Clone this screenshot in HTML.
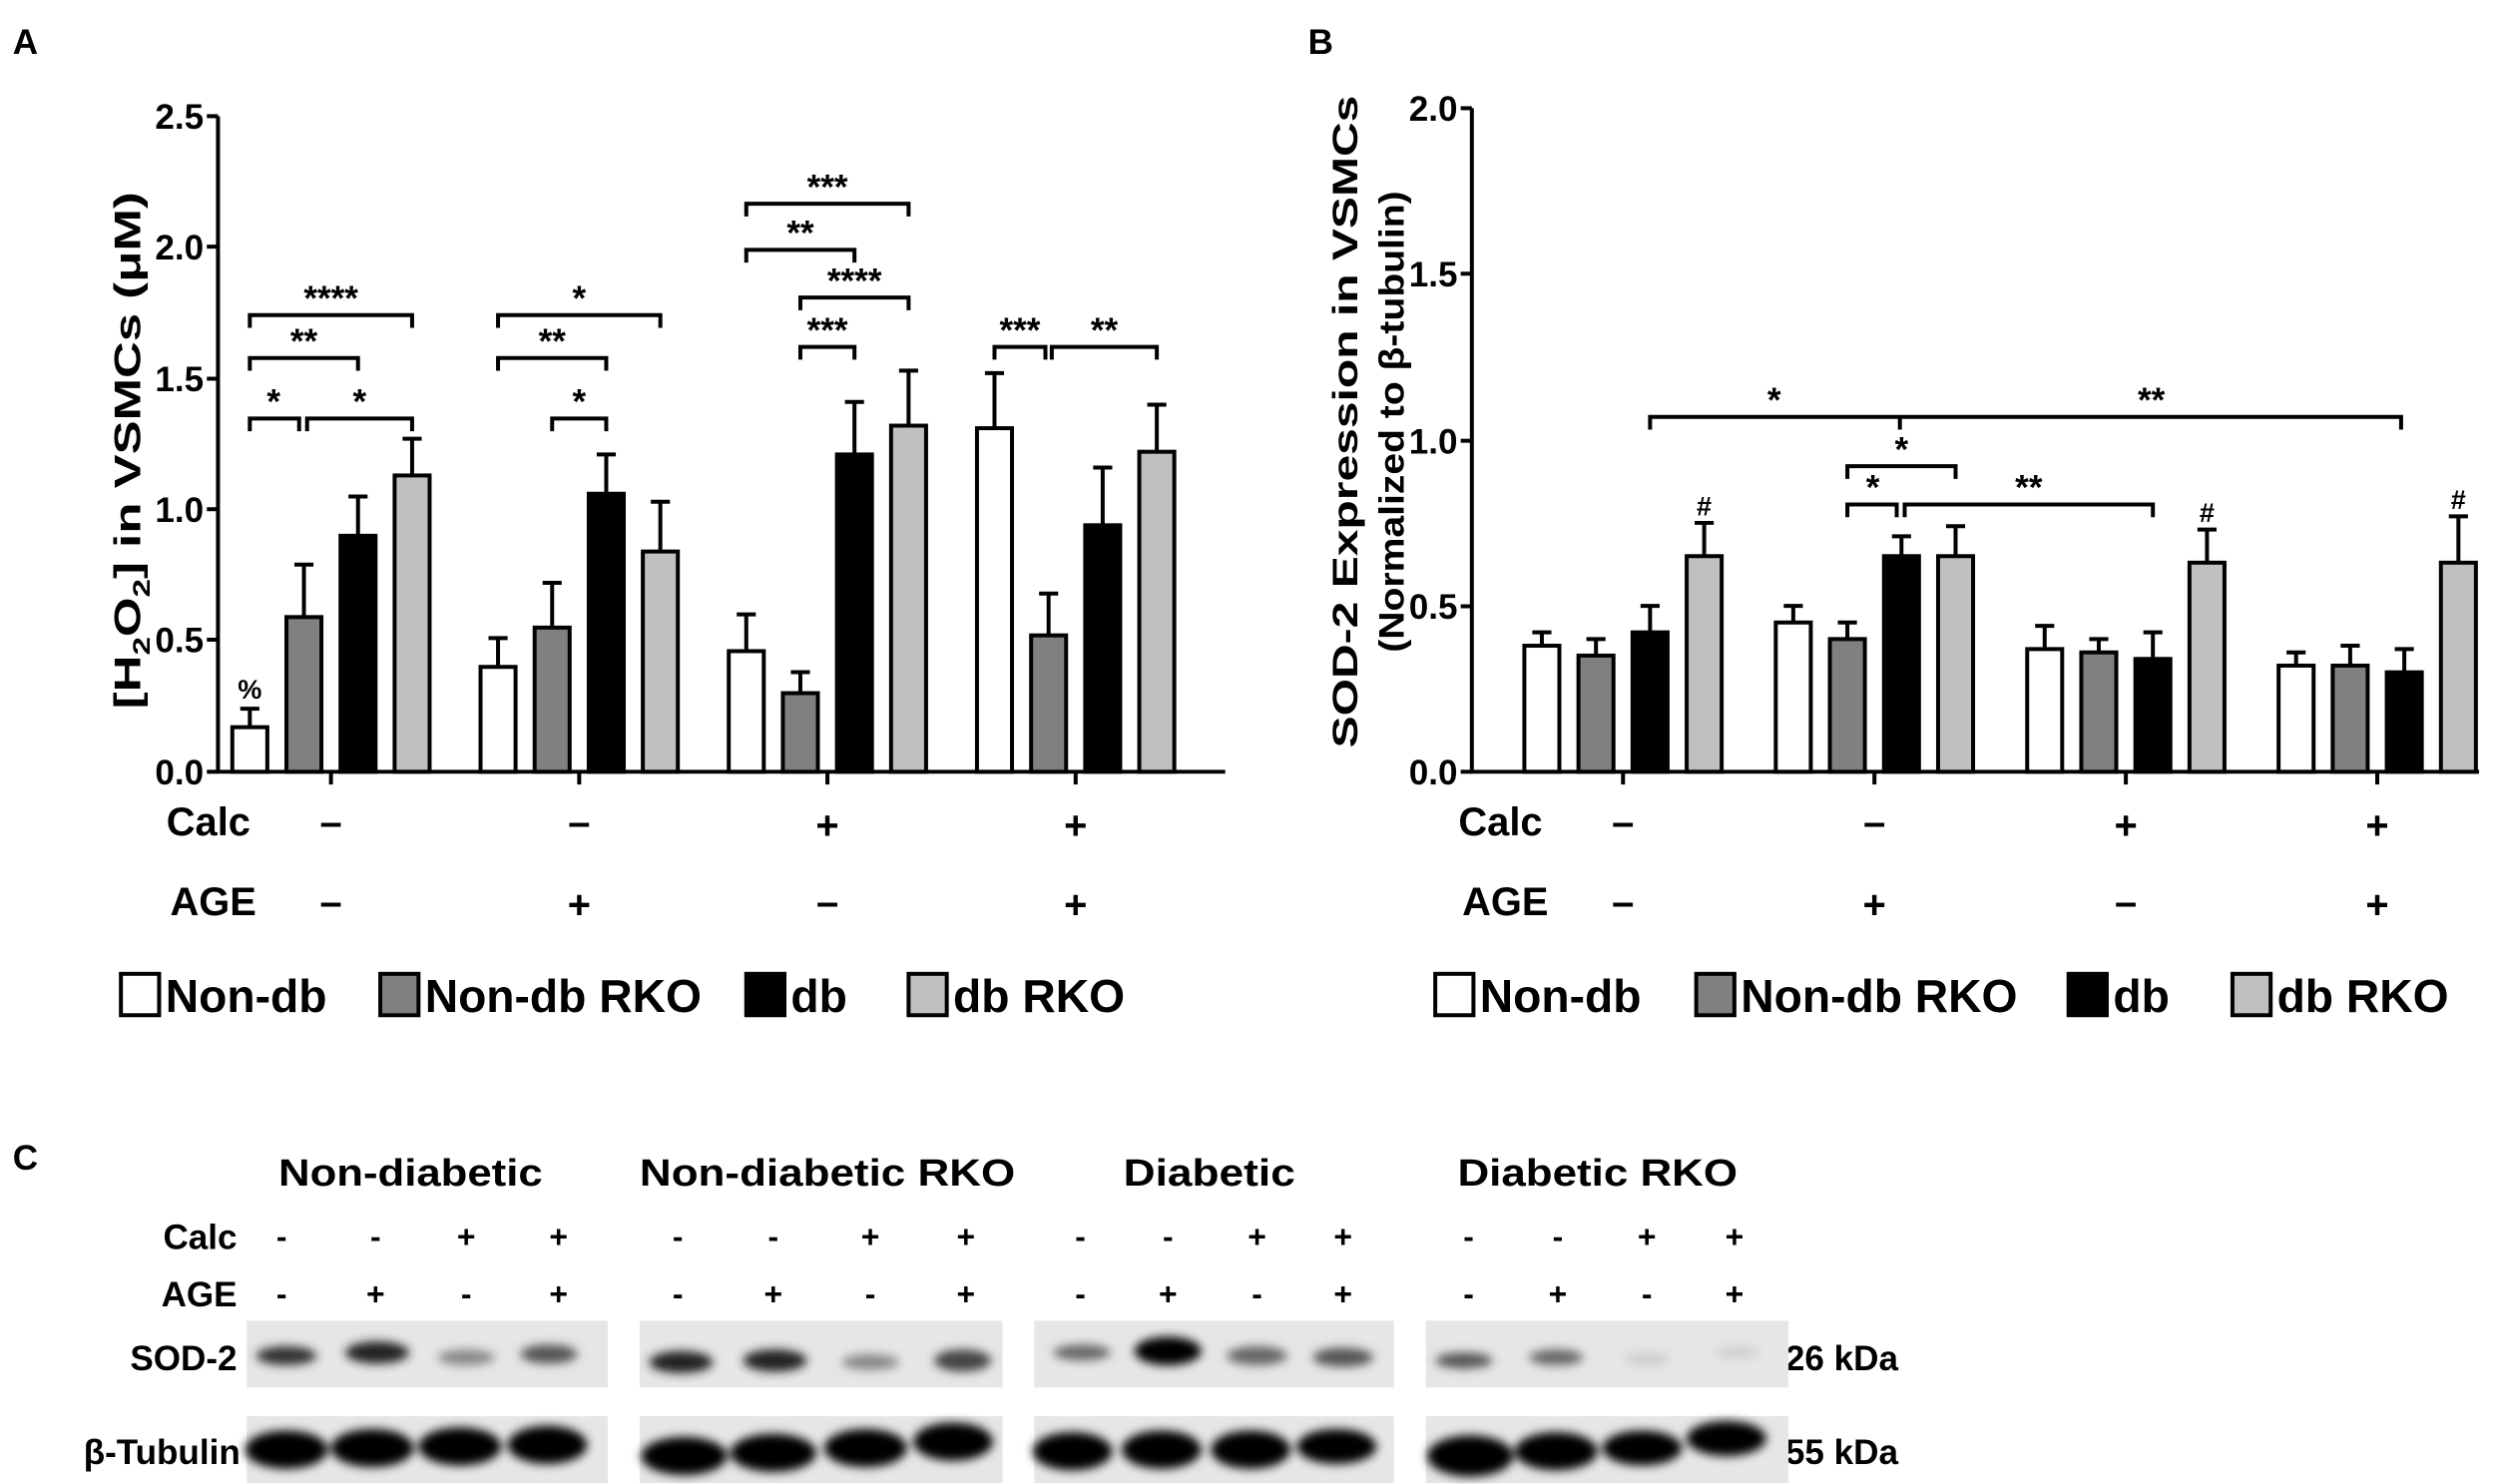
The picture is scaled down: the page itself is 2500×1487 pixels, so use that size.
<!DOCTYPE html>
<html><head><meta charset="utf-8"><style>
html,body{margin:0;padding:0;background:#fff}
svg{display:block}
text{font-family:"Liberation Sans",Arial,sans-serif;font-weight:bold;fill:#000}
</style></head><body>
<svg width="2500" height="1487" viewBox="0 0 1568 932.6" preserveAspectRatio="none" xmlns="http://www.w3.org/2000/svg">
<defs><filter id="bl" x="-30%" y="-60%" width="160%" height="220%"><feGaussianBlur stdDeviation="3"/></filter></defs>
<rect width="1568" height="933" fill="#fff"/>
<text x="8" y="34" font-size="22">A</text>
<text x="822" y="34" font-size="22">B</text>
<text x="8" y="735" font-size="22">C</text>

<!-- Panel A axes -->
<g stroke="#000" stroke-width="2.5" fill="none">
<line x1="137" y1="73" x2="137" y2="486"/>
<line x1="136" y1="485" x2="770" y2="485"/>
<line x1="130" y1="73" x2="137" y2="73"/><line x1="130" y1="155" x2="137" y2="155"/><line x1="130" y1="238" x2="137" y2="238"/><line x1="130" y1="320" x2="137" y2="320"/><line x1="130" y1="402" x2="137" y2="402"/><line x1="130" y1="485" x2="137" y2="485"/>
<line x1="208" y1="485" x2="208" y2="493"/><line x1="364" y1="485" x2="364" y2="493"/><line x1="520" y1="485" x2="520" y2="493"/><line x1="676" y1="485" x2="676" y2="493"/>
</g>
<g font-size="22" text-anchor="end">
<text x="128" y="81">2.5</text><text x="128" y="163">2.0</text><text x="128" y="246">1.5</text><text x="128" y="328">1.0</text><text x="128" y="410">0.5</text><text x="128" y="493">0.0</text>
</g>
<text transform="translate(88,283) rotate(-90)" font-size="23" text-anchor="middle" textLength="325" lengthAdjust="spacingAndGlyphs">[H<tspan font-size="15" dy="6">2</tspan><tspan dy="-6">O</tspan><tspan font-size="15" dy="6">2</tspan><tspan dy="-6">] in VSMCs (μM)</tspan></text>

<!-- Panel A bars -->
<g stroke="#000" stroke-width="2.5">
<rect x="146" y="457" width="22" height="28" fill="#fff"/>
<rect x="180" y="387.8" width="22" height="97.2" fill="#808080"/>
<rect x="214" y="336.7" width="22" height="148.3" fill="#000"/>
<rect x="248" y="298.8" width="22" height="186.2" fill="#c0c0c0"/>
<rect x="302" y="419.1" width="22" height="65.9" fill="#fff"/>
<rect x="336" y="394.4" width="22" height="90.6" fill="#808080"/>
<rect x="370" y="310.3" width="22" height="174.7" fill="#000"/>
<rect x="404" y="346.6" width="22" height="138.4" fill="#c0c0c0"/>
<rect x="458" y="409.2" width="22" height="75.8" fill="#fff"/>
<rect x="492" y="435.6" width="22" height="49.4" fill="#808080"/>
<rect x="526" y="285.6" width="22" height="199.4" fill="#000"/>
<rect x="560" y="267.5" width="22" height="217.5" fill="#c0c0c0"/>
<rect x="614" y="269.1" width="22" height="215.9" fill="#fff"/>
<rect x="648" y="399.3" width="22" height="85.7" fill="#808080"/>
<rect x="682" y="330.1" width="22" height="154.9" fill="#000"/>
<rect x="716" y="283.9" width="22" height="201.1" fill="#c0c0c0"/>
</g>
<g stroke="#000" stroke-width="2.5" fill="none">
<path d="M157 457V445.4M151 445.4H163"/>
<path d="M191 387.8V354.8M185 354.8H197"/>
<path d="M225 336.7V312M219 312H231"/>
<path d="M259 298.8V275.7M253 275.7H265"/>
<path d="M313 419.1V401M307 401H319"/>
<path d="M347 394.4V366.3M341 366.3H353"/>
<path d="M381 310.3V285.6M375 285.6H387"/>
<path d="M415 346.6V315.3M409 315.3H421"/>
<path d="M469 409.2V386.1M463 386.1H475"/>
<path d="M503 435.6V422.4M497 422.4H509"/>
<path d="M537 285.6V252.6M531 252.6H543"/>
<path d="M571 267.5V232.9M565 232.9H577"/>
<path d="M625 269.1V234.5M619 234.5H631"/>
<path d="M659 399.3V373M653 373H665"/>
<path d="M693 330.1V293.8M687 293.8H699"/>
<path d="M727 283.9V254.3M721 254.3H733"/>
</g>
<!-- brackets A -->
<g stroke="#000" stroke-width="2.5" fill="none">
<path d="M157 271V263H188V271"/><path d="M193 271V263H259V271"/>
<path d="M157 233V225H225V233"/><path d="M157 206V198H259V206"/>
<path d="M347 271V263H381V271"/><path d="M313 233V225H381V233"/><path d="M313 206V198H415V206"/>
<path d="M503 226V218H537V226"/><path d="M503 195V187H571V195"/><path d="M469 165V157H537V165"/><path d="M469 136V128H571V136"/>
<path d="M625 226V218H657V226"/><path d="M661 226V218H727V226"/>
</g>
<g font-size="22" text-anchor="middle">
<text x="172" y="260">*</text><text x="226" y="260">*</text><text x="191" y="222">**</text><text x="208" y="195">****</text>
<text x="364" y="260">*</text><text x="347" y="222">**</text><text x="364" y="195">*</text>
<text x="520" y="215">***</text><text x="537" y="184">****</text><text x="503" y="154">**</text><text x="520" y="125">***</text>
<text x="641" y="215">***</text><text x="694" y="215">**</text>
<text x="157" y="439" font-size="17">%</text>
</g>
<!-- Calc/AGE A -->
<g font-size="25" text-anchor="middle">
<text x="131" y="525">Calc</text><text x="134" y="575">AGE</text>
<text x="208" y="525">–</text><text x="364" y="525">–</text><text x="520" y="527">+</text><text x="676" y="527">+</text>
<text x="208" y="575">–</text><text x="364" y="577">+</text><text x="520" y="575">–</text><text x="676" y="577">+</text>
</g>
<!-- legend A -->
<g stroke="#000" stroke-width="2.5">
<rect x="76" y="612" width="24" height="26" fill="#fff"/>
<rect x="239" y="612" width="24" height="26" fill="#808080"/>
<rect x="469" y="612" width="24" height="26" fill="#000"/>
<rect x="571" y="612" width="24" height="26" fill="#c0c0c0"/>
</g>
<g font-size="29"><text x="104" y="636">Non-db</text><text x="267" y="636">Non-db RKO</text><text x="497" y="636">db</text><text x="599" y="636">db RKO</text></g>

<!-- Panel B axes -->
<g stroke="#000" stroke-width="2.5" fill="none">
<line x1="925" y1="68" x2="925" y2="486"/>
<line x1="924" y1="485" x2="1558" y2="485"/>
<line x1="918" y1="68" x2="925" y2="68"/><line x1="918" y1="172" x2="925" y2="172"/><line x1="918" y1="277" x2="925" y2="277"/><line x1="918" y1="381" x2="925" y2="381"/><line x1="918" y1="485" x2="925" y2="485"/>
<line x1="1020" y1="485" x2="1020" y2="493"/><line x1="1178" y1="485" x2="1178" y2="493"/><line x1="1336" y1="485" x2="1336" y2="493"/><line x1="1494" y1="485" x2="1494" y2="493"/>
</g>
<g font-size="22" text-anchor="end">
<text x="916" y="76">2.0</text><text x="916" y="180">1.5</text><text x="916" y="285">1.0</text><text x="916" y="389">0.5</text><text x="916" y="493">0.0</text>
</g>
<text transform="translate(853,265) rotate(-90)" font-size="22" text-anchor="middle" textLength="410" lengthAdjust="spacingAndGlyphs">SOD-2 Expression in VSMCs</text>
<text transform="translate(882,265) rotate(-90)" font-size="22" text-anchor="middle" textLength="290" lengthAdjust="spacingAndGlyphs">(Normalized to β-tubulin)</text>
<g stroke="#000" stroke-width="2.5">
<rect x="958" y="405.8" width="22" height="79.2" fill="#fff"/>
<rect x="992" y="412" width="22" height="73" fill="#808080"/>
<rect x="1026" y="397.4" width="22" height="87.6" fill="#000"/>
<rect x="1060" y="349.5" width="22" height="135.5" fill="#c0c0c0"/>
<rect x="1116" y="391.2" width="22" height="93.8" fill="#fff"/>
<rect x="1150" y="401.6" width="22" height="83.4" fill="#808080"/>
<rect x="1184" y="349.5" width="22" height="135.5" fill="#000"/>
<rect x="1218" y="349.5" width="22" height="135.5" fill="#c0c0c0"/>
<rect x="1274" y="407.9" width="22" height="77.1" fill="#fff"/>
<rect x="1308" y="410" width="22" height="75" fill="#808080"/>
<rect x="1342" y="414.1" width="22" height="70.9" fill="#000"/>
<rect x="1376" y="353.6" width="22" height="131.4" fill="#c0c0c0"/>
<rect x="1432" y="418.3" width="22" height="66.7" fill="#fff"/>
<rect x="1466" y="418.3" width="22" height="66.7" fill="#808080"/>
<rect x="1500" y="422.5" width="22" height="62.5" fill="#000"/>
<rect x="1534" y="353.6" width="22" height="131.4" fill="#c0c0c0"/>
</g>
<g stroke="#000" stroke-width="2.5" fill="none">
<path d="M969 405.8V397.4M963 397.4H975"/>
<path d="M1003 412V401.6M997 401.6H1009"/>
<path d="M1037 397.4V380.8M1031 380.8H1043"/>
<path d="M1071 349.5V328.6M1065 328.6H1077"/>
<path d="M1127 391.2V380.8M1121 380.8H1133"/>
<path d="M1161 401.6V391.2M1155 391.2H1167"/>
<path d="M1195 349.5V337M1189 337H1201"/>
<path d="M1229 349.5V330.7M1223 330.7H1235"/>
<path d="M1285 407.9V393.3M1279 393.3H1291"/>
<path d="M1319 410V401.6M1313 401.6H1325"/>
<path d="M1353 414.1V397.4M1347 397.4H1359"/>
<path d="M1387 353.6V332.8M1381 332.8H1393"/>
<path d="M1443 418.3V410M1437 410H1449"/>
<path d="M1477 418.3V405.8M1471 405.8H1483"/>
<path d="M1511 422.5V407.9M1505 407.9H1517"/>
<path d="M1545 353.6V324.5M1539 324.5H1551"/>
</g>
<g stroke="#000" stroke-width="2.5" fill="none">
<path d="M1037 270V262H1509V270M1194 262V270"/>
<path d="M1161 325V317H1192V325"/><path d="M1197 325V317H1353V325"/>
<path d="M1161 301V293H1229V301"/>
</g>
<g font-size="22" text-anchor="middle">
<text x="1115" y="259">*</text><text x="1352" y="259">**</text>
<text x="1177" y="314">*</text><text x="1275" y="314">**</text><text x="1195" y="290">*</text>
<text x="1071" y="324" font-size="17">#</text><text x="1387" y="328" font-size="17">#</text><text x="1545" y="320" font-size="17">#</text>
</g>
<g font-size="25" text-anchor="middle">
<text x="943" y="525">Calc</text><text x="946" y="575">AGE</text>
<text x="1020" y="525">–</text><text x="1178" y="525">–</text><text x="1336" y="527">+</text><text x="1494" y="527">+</text>
<text x="1020" y="575">–</text><text x="1178" y="577">+</text><text x="1336" y="575">–</text><text x="1494" y="577">+</text>
</g>
<g stroke="#000" stroke-width="2.5">
<rect x="902" y="612" width="24" height="26" fill="#fff"/>
<rect x="1066" y="612" width="24" height="26" fill="#808080"/>
<rect x="1300" y="612" width="24" height="26" fill="#000"/>
<rect x="1403" y="612" width="24" height="26" fill="#c0c0c0"/>
</g>
<g font-size="29"><text x="930" y="636">Non-db</text><text x="1094" y="636">Non-db RKO</text><text x="1328" y="636">db</text><text x="1431" y="636">db RKO</text></g>

<!-- Panel C -->
<g font-size="24" text-anchor="middle">
<text x="258" y="745" textLength="166" lengthAdjust="spacingAndGlyphs">Non-diabetic</text><text x="520" y="745" textLength="236" lengthAdjust="spacingAndGlyphs">Non-diabetic RKO</text><text x="760" y="745" textLength="108" lengthAdjust="spacingAndGlyphs">Diabetic</text><text x="1004" y="745" textLength="176" lengthAdjust="spacingAndGlyphs">Diabetic RKO</text>
</g>
<g font-size="22" text-anchor="end"><text x="149" y="785">Calc</text><text x="149" y="821">AGE</text><text x="149" y="861">SOD-2</text><text x="151" y="920">β-Tubulin</text></g>
<g font-size="22"><text x="1122" y="861">26 kDa</text><text x="1122" y="920">55 kDa</text></g>
<g font-size="20" text-anchor="middle">
<text x="177" y="784">-</text><text x="236" y="784">-</text><text x="293" y="784">+</text><text x="351" y="784">+</text>
<text x="426" y="784">-</text><text x="486" y="784">-</text><text x="547" y="784">+</text><text x="607" y="784">+</text>
<text x="679" y="784">-</text><text x="734" y="784">-</text><text x="790" y="784">+</text><text x="844" y="784">+</text>
<text x="923" y="784">-</text><text x="979" y="784">-</text><text x="1035" y="784">+</text><text x="1090" y="784">+</text>
<text x="177" y="820">-</text><text x="236" y="820">+</text><text x="293" y="820">-</text><text x="351" y="820">+</text>
<text x="426" y="820">-</text><text x="486" y="820">+</text><text x="547" y="820">-</text><text x="607" y="820">+</text>
<text x="679" y="820">-</text><text x="734" y="820">+</text><text x="790" y="820">-</text><text x="844" y="820">+</text>
<text x="923" y="820">-</text><text x="979" y="820">+</text><text x="1035" y="820">-</text><text x="1090" y="820">+</text>
</g>
<g fill="#e6e6e6">
<rect x="155" y="830" width="227" height="42"/><rect x="402" y="830" width="228" height="42"/><rect x="650" y="830" width="226" height="42"/><rect x="896" y="830" width="228" height="42"/>
<rect x="155" y="890" width="227" height="42"/><rect x="402" y="890" width="228" height="42"/><rect x="650" y="890" width="226" height="42"/><rect x="896" y="890" width="228" height="42"/>
</g>
<g filter="url(#bl)">
<ellipse cx="180" cy="852" rx="19" ry="6" fill="#333"/><ellipse cx="237" cy="850" rx="20" ry="7" fill="#222"/><ellipse cx="293" cy="853" rx="18" ry="5" fill="#888"/><ellipse cx="345" cy="851" rx="18" ry="6" fill="#555"/>
<ellipse cx="428" cy="856" rx="20" ry="7" fill="#222"/><ellipse cx="487" cy="855" rx="20" ry="7" fill="#222"/><ellipse cx="547" cy="856" rx="18" ry="5" fill="#888"/><ellipse cx="605" cy="855" rx="18" ry="7" fill="#444"/>
<ellipse cx="680" cy="850" rx="18" ry="5" fill="#666"/><ellipse cx="734" cy="849" rx="21" ry="9" fill="#000"/><ellipse cx="790" cy="852" rx="19" ry="6" fill="#666"/><ellipse cx="844" cy="853" rx="19" ry="6" fill="#555"/>
<ellipse cx="920" cy="855" rx="18" ry="5" fill="#555"/><ellipse cx="978" cy="853" rx="17" ry="5" fill="#666"/><ellipse cx="1035" cy="854" rx="14" ry="4" fill="#ccc"/><ellipse cx="1092" cy="850" rx="14" ry="4" fill="#d0d0d0"/>
</g>
<g fill="#000" filter="url(#bl)">
<ellipse cx="180" cy="911" rx="26" ry="12"/><ellipse cx="234" cy="910" rx="26" ry="12"/><ellipse cx="289" cy="909" rx="26" ry="12"/><ellipse cx="344" cy="908" rx="25" ry="12"/>
<ellipse cx="430" cy="915" rx="27" ry="12"/><ellipse cx="486" cy="913" rx="27" ry="12"/><ellipse cx="544" cy="910" rx="26" ry="12"/><ellipse cx="599" cy="906" rx="25" ry="12"/>
<ellipse cx="674" cy="912" rx="25" ry="12"/><ellipse cx="730" cy="911" rx="25" ry="12"/><ellipse cx="786" cy="911" rx="25" ry="12"/><ellipse cx="840" cy="909" rx="25" ry="11"/>
<ellipse cx="924" cy="915" rx="27" ry="13"/><ellipse cx="978" cy="912" rx="26" ry="12"/><ellipse cx="1032" cy="910" rx="25" ry="11"/><ellipse cx="1085" cy="904" rx="25" ry="11"/>
</g>
</svg>
</body></html>
